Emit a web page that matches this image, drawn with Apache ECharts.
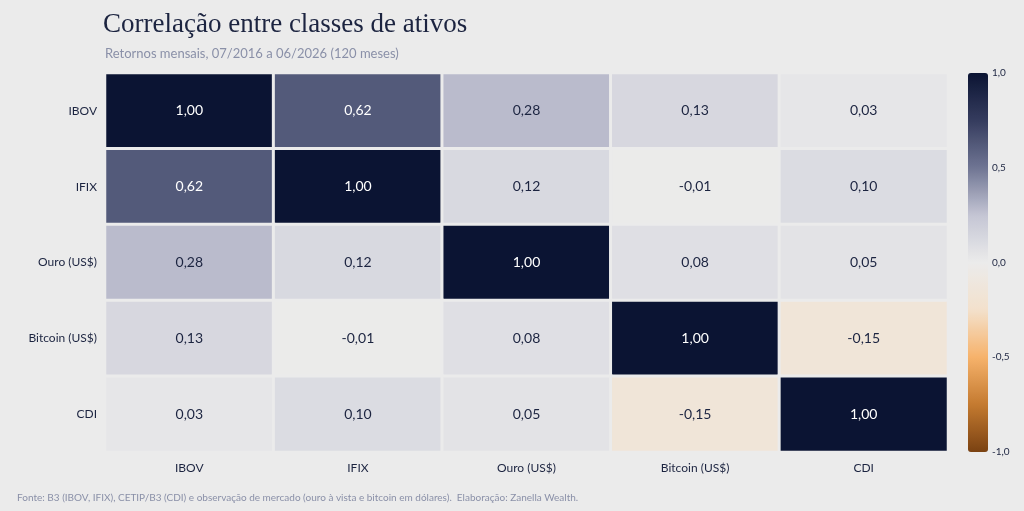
<!DOCTYPE html>
<html><head><meta charset="utf-8">
<script src="https://cdn.jsdelivr.net/npm/echarts@6/dist/echarts.min.js"></script>
<style>html,body{margin:0;background:#ebebeb}#c{width:1024px;height:511px}</style>
</head><body><div id="c"></div>
<script>
var chart = echarts.init(document.getElementById('c'));

var assets = ['IBOV', 'IFIX', 'Ouro (US$)', 'Bitcoin (US$)', 'CDI'];
// matriz de correlação (linha = ativo y, coluna = ativo x)
var corr = [
    [1.00, 0.62, 0.28, 0.13, 0.03],
    [0.62, 1.00, 0.12, -0.01, 0.10],
    [0.28, 0.12, 1.00, 0.08, 0.05],
    [0.13, -0.01, 0.08, 1.00, -0.15],
    [0.03, 0.10, 0.05, -0.15, 1.00]
];

var data = [];
for (var i = 0; i < corr.length; i++) {
    for (var j = 0; j < corr[i].length; j++) {
        data.push({
            value: [j, i, corr[i][j]],
            label: { color: corr[i][j] > 0.5 ? '#ffffff' : '#1c2440' }
        });
    }
}
function br(v, d) { return v.toFixed(d).replace('.', ','); }

chart.setOption({
    backgroundColor: '#ebebeb',
    textStyle: { fontFamily: 'Lato' },
    title: [{
        text: 'Correlação entre classes de ativos',
        left: 98, top: 6,
        textStyle: { fontFamily: 'Liberation Serif', fontWeight: 'normal', fontSize: 27, color: '#1c2440' }
    }, {
        text: 'Retornos mensais, 07/2016 a 06/2026 (120 meses)',
        left: 100, top: 42,
        textStyle: { fontWeight: 'normal', fontSize: 13, color: '#8a90a8' }
    }, {
        text: 'Fonte: B3 (IBOV, IFIX), CETIP/B3 (CDI) e observação de mercado (ouro à vista e bitcoin em dólares).  Elaboração: Zanella Wealth.',
        left: 12, top: 488,
        textStyle: { fontWeight: 'normal', fontSize: 10, color: '#8a90a8' }
    }],
    grid: [
        { left: 105, right: 76, top: 73, bottom: 59 },
        { left: 968, width: 20, top: 73, bottom: 59 }
    ],
    xAxis: [{
        type: 'category', data: assets, gridIndex: 0,
        axisLine: { show: false }, axisTick: { show: false },
        axisLabel: { color: '#1c2440', fontSize: 12, margin: 10 }
    }, {
        type: 'value', gridIndex: 1, show: false
    }],
    yAxis: [{
        type: 'category', data: assets, inverse: true, gridIndex: 0,
        axisLine: { show: false }, axisTick: { show: false },
        axisLabel: { color: '#1c2440', fontSize: 12, margin: 8 }
    }, {
        type: 'value', gridIndex: 1, position: 'right', min: -1, max: 1, interval: 0.5,
        axisLine: { show: false }, axisTick: { show: false }, splitLine: { show: false },
        axisLabel: { color: '#1c2440', fontSize: 10, margin: 4, formatter: function (v) { return br(v, 1); } }
    }],
    visualMap: {
        type: 'continuous', min: -1, max: 1, seriesIndex: 0,
        calculable: false, show: true, padding: 0,
        left: 968, top: 73, itemWidth: 20, itemHeight: 379,
        showLabel: false,
        inRange: { color: ['#7a4212', '#c47a30', '#f6b26b', '#f3e1cc', '#ebebeb', '#c4c5d4', '#6f7593', '#353c5e', '#0b1433'] }
    },
    series: [{
        type: 'heatmap', data: data,
        itemStyle: { borderColor: '#ebebeb', borderWidth: 3 },
        label: {
            show: true, fontSize: 14,
            formatter: function (p) { return br(p.value[2], 2); }
        },
        emphasis: { disabled: true }
    }]
});
</script></body></html>
